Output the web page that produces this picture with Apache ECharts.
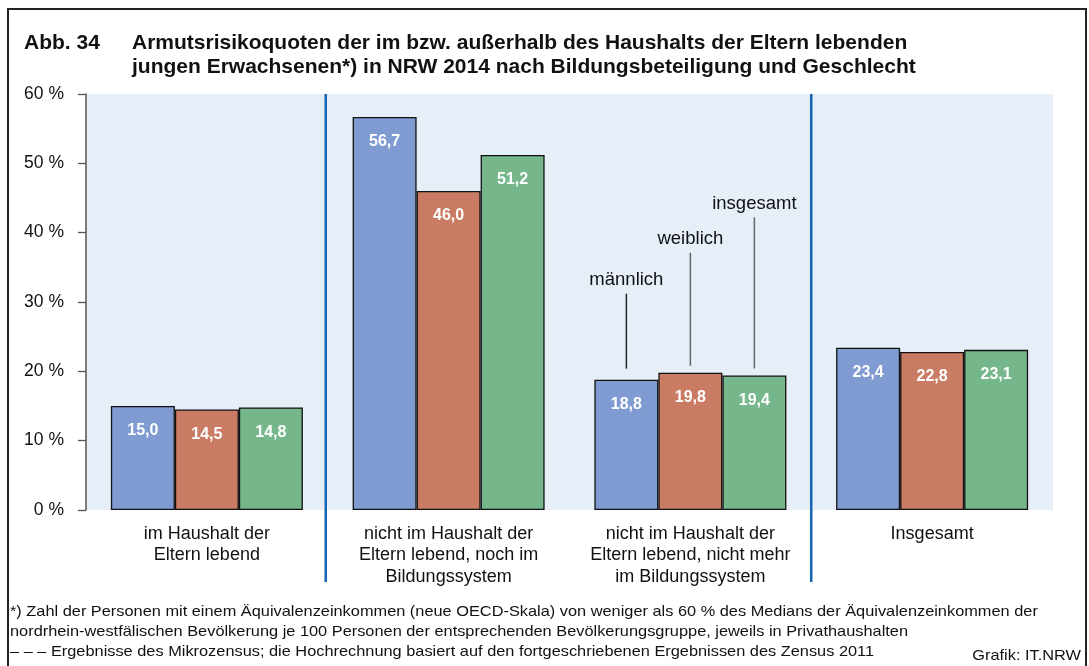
<!DOCTYPE html>
<html>
<head>
<meta charset="utf-8">
<script src="https://cdn.jsdelivr.net/npm/echarts@6/dist/echarts.min.js"></script>
<style>
  html, body { margin: 0; padding: 0; background: #fff; }
  #chart { width: 1089px; height: 666px; }
</style>
</head>
<body>
<div id="chart"></div>
<script>
// Categories (education participation) and poverty-risk rates by sex, NRW 2014
const categories = [
  'im Haushalt der\nEltern lebend',
  'nicht im Haushalt der\nEltern lebend, noch im\nBildungssystem',
  'nicht im Haushalt der\nEltern lebend, nicht mehr\nim Bildungssystem',
  'Insgesamt'
];
const maennlich = [15.0, 56.7, 18.8, 23.4];
const weiblich  = [14.5, 46.0, 19.8, 22.8];
const insgesamt = [14.8, 51.2, 19.4, 23.1];
const seriesNames = ['männlich', 'weiblich', 'insgesamt'];
const yTicks = [0, 10, 20, 30, 40, 50, 60];

const FONT = '"Liberation Sans", Arial, sans-serif';
const colors = ['#7f9bd1', '#c97c63', '#75b78b'];
const BAR_W = 64;

const chart = echarts.init(document.getElementById('chart'), null, { renderer: 'canvas' });

function fmt(v) { return v.toFixed(1).replace('.', ','); }

function barSeries(name, data, color) {
  return {
    name: name,
    type: 'bar',
    data: data,
    barWidth: BAR_W,
    barGap: '0%',
    itemStyle: { color: color, borderColor: '#111', borderWidth: 1.3 },
    label: {
      show: true,
      position: 'insideTop',
      distance: 17,
      color: '#fff',
      fontFamily: FONT,
      fontWeight: 'bold',
      fontSize: 16,
      formatter: p => fmt(p.value)
    },
    emphasis: { disabled: true },
    animation: false
  };
}

const option = {
  animation: false,
  backgroundColor: '#fff',
  title: [
    {
      text: 'Abb. 34',
      left: 19, top: 26,
      textStyle: { fontFamily: FONT, fontSize: 21, fontWeight: 'bold', color: '#111', lineHeight: 24 }
    },
    {
      text: 'Armutsrisikoquoten der im bzw. außerhalb des Haushalts der Eltern lebenden\njungen Erwachsenen*) in NRW 2014 nach Bildungsbeteiligung und Geschlecht',
      left: 127, top: 26,
      textStyle: { fontFamily: FONT, fontSize: 21, fontWeight: 'bold', color: '#111', lineHeight: 24 }
    }
  ],
  grid: {
    left: 86, right: 36, top: 94, bottom: 156,
    show: true, backgroundColor: '#e6eef8', borderWidth: 0
  },
  xAxis: {
    type: 'category',
    data: categories,
    axisLine: { show: false },
    axisTick: { show: false },
    axisLabel: {
      fontFamily: FONT, fontSize: 18, color: '#111',
      lineHeight: 21.5, margin: 13, interval: 0
    }
  },
  yAxis: {
    type: 'value',
    min: 0, max: 60, interval: 10,
    axisLine: { show: true, lineStyle: { color: '#555', width: 1.5 } },
    axisTick: { show: true, length: 8, lineStyle: { color: '#555', width: 1.3 } },
    splitLine: { show: false },
    axisLabel: {
      fontFamily: FONT, fontSize: 17.5, color: '#111', margin: 22,
      formatter: v => yTicks.includes(v) ? v + ' %' : ''
    }
  },
  series: [
    barSeries(seriesNames[0], maennlich, colors[0]),
    barSeries(seriesNames[1], weiblich, colors[1]),
    barSeries(seriesNames[2], insgesamt, colors[2])
  ]
};

chart.setOption(option);

// Extra drawing: group separators, series annotations, footnotes, frame
function px(point) {
  return chart.convertToPixel({ seriesIndex: 0 }, point);
}
const graphics = [];

// Frame around the whole figure
graphics.push({
  type: 'rect', silent: true,
  shape: { x: 8, y: 9, width: 1078, height: 668 },
  style: { fill: null, stroke: '#222', lineWidth: 2 }
});

// Vertical separators at category boundaries 1|2 and 3|4
const top60 = px([0, 60])[1];
const catStep = px([1, 0])[0] - px([0, 0])[0];
[0.5, 2.5].forEach(b => {
  const x = px([0, 0])[0] + catStep * b - (b === 0.5 ? 2 : 0);
  graphics.push({
    type: 'line', silent: true,
    shape: { x1: x, y1: top60, x2: x, y2: 582 },
    style: { stroke: '#1565b5', lineWidth: 2.5 }
  });
});

// Series annotations above the third group: pointer line from bar top upward, name above it
const annotTop = [31.2, 37.1, 42.2];   // upper end of each pointer line (in %)
const annotGap = [11, 7, 7];           // space between bar top and pointer line (px)
const groupIdx = 2;
[maennlich, weiblich, insgesamt].forEach((arr, i) => {
  const base = px([groupIdx, arr[groupIdx]]);
  const x = base[0] + (i - 1) * BAR_W;
  const yTop = px([groupIdx, annotTop[i]])[1];
  graphics.push({
    type: 'line', silent: true,
    shape: { x1: x, y1: base[1] - annotGap[i], x2: x, y2: yTop },
    style: { stroke: i === 0 ? '#222' : '#666', lineWidth: 1.5 }
  });
  graphics.push({
    type: 'text', silent: true,
    x: x, y: yTop - 14,
    style: {
      text: seriesNames[i], fill: '#111',
      font: '18.5px ' + FONT, textAlign: 'center', textVerticalAlign: 'middle'
    }
  });
});

// Footnotes
const notes = [
  '*) Zahl der Personen mit einem Äquivalenzeinkommen (neue OECD-Skala) von weniger als 60 % des Medians der Äquivalenzeinkommen der',
  'nordrhein-westfälischen Bevölkerung je 100 Personen der entsprechenden Bevölkerungsgruppe, jeweils in Privathaushalten',
  '– – – Ergebnisse des Mikrozensus; die Hochrechnung basiert auf den fortgeschriebenen Ergebnissen des Zensus 2011'
];
notes.forEach((t, i) => {
  graphics.push({
    type: 'text', silent: true,
    x: 10, y: 612 + i * 19.7, scaleX: 1.09,
    style: { text: t, fill: '#111', font: '15px ' + FONT, textVerticalAlign: 'middle' }
  });
});
graphics.push({
  type: 'text', silent: true,
  x: 1081, y: 656, scaleX: 1.09,
  style: { text: 'Grafik: IT.NRW', fill: '#111', font: '15px ' + FONT, textAlign: 'right', textVerticalAlign: 'middle' }
});

chart.setOption({ graphic: graphics });
</script>
</body>
</html>
